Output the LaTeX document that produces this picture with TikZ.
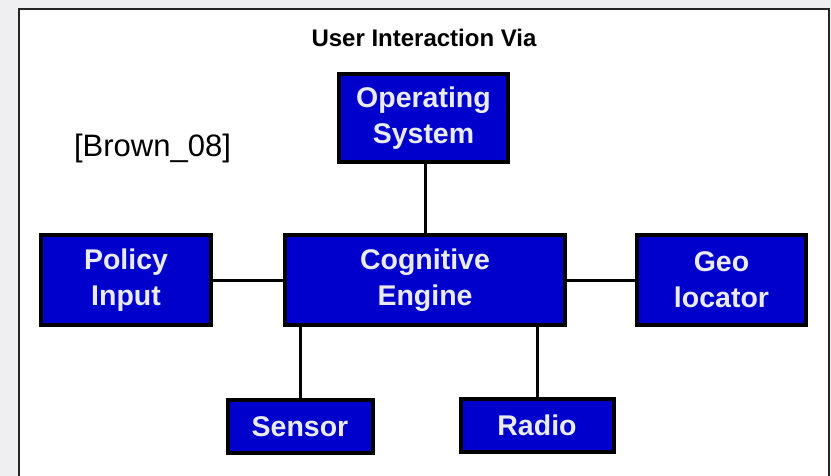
\documentclass[tikz,border=0pt]{standalone}
\usepackage{fontspec}
\setmainfont{Liberation Sans}
\usepackage{tikz}
\usetikzlibrary{positioning}
\definecolor{boxblue}{RGB}{0,0,204}
\definecolor{boxtext}{RGB}{234,234,242}
\definecolor{pagegray}{RGB}{239,239,241}
\tikzstyle{bbox} = [rectangle, draw=black, fill=boxblue, line width=4pt, inner sep=0pt, align=center, text=boxtext, font=\fontsize{28.5}{36}\selectfont\bfseries]
\tikzstyle{line} = [draw, line width=3pt]

\begin{document}
\begin{tikzpicture}[x=1pt, y=-1pt]
			\fill [pagegray] (0, 0) rectangle (831, 476);
			\useasboundingbox (0, 0) rectangle (831, 476);
			\filldraw [fill=white, draw=black!85, line width=2pt] (18.5, 9) rectangle (829, 492);
			\node [anchor=base, font=\fontsize{24}{28}\selectfont\bfseries] (title) at (424, 47) {User Interaction Via};
			\node [anchor=base, font=\fontsize{31}{36}\selectfont] (ref) at (152.5, 157) {[Brown\_08]};

			\node [bbox, minimum width=169pt, minimum height=88pt] (os) at (423.5, 118) {Operating\\System};
			\node [bbox, minimum width=170pt, minimum height=89pt] (policy) at (126, 280) {Policy\\Input};
			\node [bbox, minimum width=280pt, minimum height=90pt] (cog) at (425, 280) {Cognitive\\Engine};
			\node [bbox, minimum width=169pt, minimum height=90pt] (geo) at (721.5, 280) {Geo\\locator};
			\node [bbox, minimum width=145pt, minimum height=53pt] (sensor) at (300, 426.5) {Sensor};
			\node [bbox, minimum width=153pt, minimum height=53pt] (radio) at (537, 425.5) {Radio};

			\path [line] (os.south -| cog) -- (cog.north);
			\path [line] (policy) -- (cog);
			\path [line] (cog) -- (geo);
			\path [line] (cog.south -| sensor) -- (sensor.north);
			\path [line] (cog.south -| radio) -- (radio.north);
\end{tikzpicture}
\end{document}
